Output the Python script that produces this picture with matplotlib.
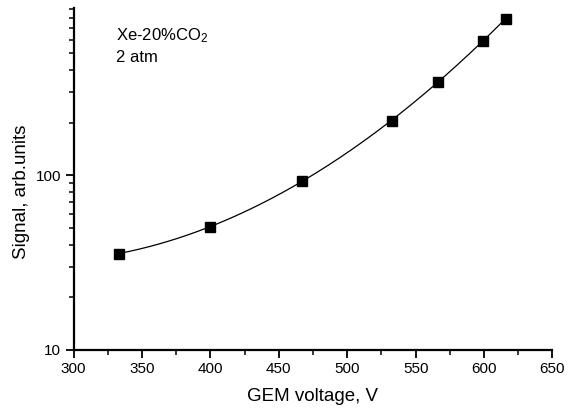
import numpy as np
import matplotlib
matplotlib.use("Agg")
import matplotlib.pyplot as plt
from matplotlib.ticker import FixedLocator, NullFormatter, FixedFormatter

plt.rcParams['font.family'] = ['Liberation Sans', 'DejaVu Sans']
plt.rcParams['mathtext.fontset'] = 'custom'
plt.rcParams['mathtext.rm'] = 'Liberation Sans'
plt.rcParams['mathtext.it'] = 'Liberation Sans'

# GEM voltage (V) and signal (arb. units)
voltage = [333, 400, 467, 533, 566, 599, 616]
signal = [35.7, 50.7, 93.3, 206, 343, 590, 792]

x_ticks = [300, 350, 400, 450, 500, 550, 600, 650]
y_ticks = [10, 100]

fig = plt.figure(figsize=(5.77, 4.09), dpi=100)
ax = fig.add_axes([0.1274, 0.1443, 0.8301, 0.8361])

# smooth curve through the points (fit in log space)
coef = np.polyfit(voltage, np.log10(signal), 3)
xs = np.linspace(voltage[0], voltage[-1], 200)
ax.plot(xs, 10 ** np.polyval(coef, xs), color='black', lw=0.9)
ax.plot(voltage, signal, ls='none', marker='s', ms=6.5, color='black')

ax.set_yscale('log')
ax.set_xlim(300, 650)
ax.set_ylim(10, 910)

for s in ['top', 'right']:
    ax.spines[s].set_visible(False)
for s in ['left', 'bottom']:
    ax.spines[s].set_linewidth(1.6)

ax.xaxis.set_major_locator(FixedLocator(x_ticks))
ax.xaxis.set_minor_locator(FixedLocator(np.arange(325, 650, 50)))
ax.yaxis.set_major_locator(FixedLocator(y_ticks))
ax.yaxis.set_major_formatter(FixedFormatter([str(t) for t in y_ticks]))
ax.yaxis.set_minor_locator(FixedLocator([v * d for d in (10, 100) for v in range(2, 10)]))
ax.yaxis.set_minor_formatter(NullFormatter())

ax.tick_params(which='major', direction='out', length=6, width=1.3, labelsize=11, pad=3)
ax.tick_params(which='minor', direction='out', length=3.5, width=1.1)

ax.set_xlabel('GEM voltage, V', fontsize=13.5, labelpad=8)
ax.set_ylabel('Signal, arb.units', fontsize=13.5)
ax.yaxis.set_label_coords(-0.091, 0.462)

ax.text(0.089, 0.906, 'Xe-20%CO$_2$', transform=ax.transAxes, fontsize=12)
ax.text(0.089, 0.842, '2 atm', transform=ax.transAxes, fontsize=12)

fig.savefig('out.png', dpi=100)
